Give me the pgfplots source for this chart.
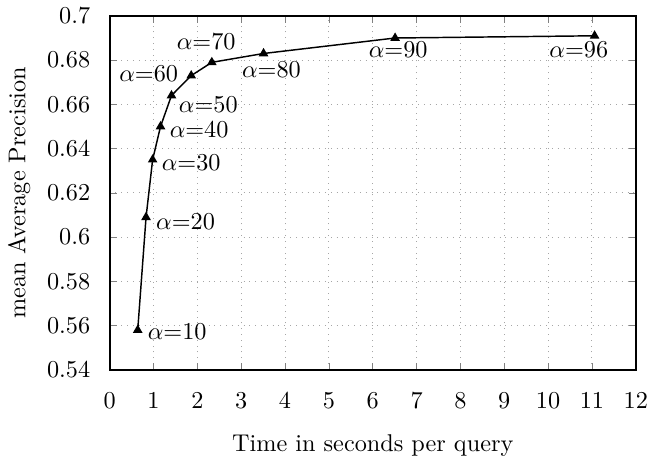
\documentclass[border=0pt]{standalone}
\usepackage{pgfplots}
\pgfplotsset{compat=1.18}
\begin{document}
\begin{tikzpicture}
  \begin{axis}[
      scale only axis,
      width=217pt, height=146pt,
      xmin=0, xmax=12, ymin=0.54, ymax=0.7,
      xtick={0,1,...,12},
      ytick={0.54,0.56,...,0.701},
      y tick label style={
        xshift=-4.5pt,
        /pgf/number format/.cd,
        fixed,
        precision=2,
        /tikz/.cd
      },
      x tick label style={yshift=-6pt},
      xlabel={Time in seconds per query},
      ylabel={mean Average Precision},
      xlabel style={yshift=-4pt},
      major tick length=3pt,
      tick align=inside,
      grid=major,
      major grid style={gray!70, dotted},
      axis line style={line width=0.8pt},
      clip=false
    ]
    \addplot[black, line width=0.6pt, mark=triangle*, mark size=1.7pt] coordinates {
      (0.64,0.558)
      (0.83,0.609)
      (0.98,0.635)
      (1.16,0.650)
      (1.41,0.664)
      (1.86,0.673)
      (2.33,0.679)
      (3.51,0.683)
      (6.51,0.690)
      (11.06,0.691)
    };
    \begin{scope}[every node/.style={anchor=west, inner sep=0pt}]
    \node at (axis cs:0.86,0.5571) {$\alpha$=10};
    \node at (axis cs:1.05,0.6070) {$\alpha$=20};
    \node at (axis cs:1.18,0.6338) {$\alpha$=30};
    \node at (axis cs:1.36,0.6488) {$\alpha$=40};
    \node at (axis cs:1.57,0.6600) {$\alpha$=50};
    \node at (axis cs:0.21,0.6737) {$\alpha$=60};
    \node at (axis cs:1.52,0.6882) {$\alpha$=70};
    \node at (axis cs:3.01,0.6755) {$\alpha$=80};
    \node at (axis cs:5.90,0.6846) {$\alpha$=90};
    \node at (axis cs:10.02,0.6846) {$\alpha$=96};
    \end{scope}
  \end{axis}
\end{tikzpicture}
\end{document}
